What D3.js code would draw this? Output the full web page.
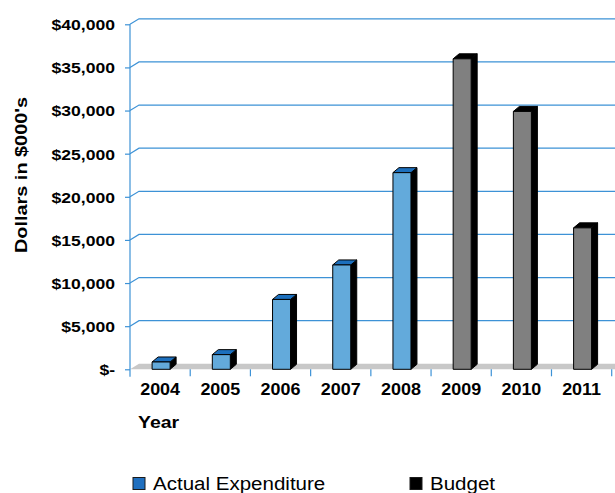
<!DOCTYPE html>
<html>
<head>
<meta charset="utf-8">
<script src="https://cdn.jsdelivr.net/npm/d3@7"></script>
<style>
  body { margin: 0; background: #fff; }
  svg { display: block; font-family: "Liberation Sans", Arial, sans-serif; }
</style>
</head>
<body>
<svg id="chart" width="615" height="493"></svg>
<script>
// Spending by year, in $000's
const years = ["2004", "2005", "2006", "2007", "2008", "2009", "2010", "2011"];
const actualValues = [850, 1700, 8100, 12100, 22800, null, null, null];
const budgetValues = [null, null, null, null, null, 36000, 29900, 16400];
const yTickValues = [0, 5000, 10000, 15000, 20000, 25000, 30000, 35000, 40000];
const yTickLabels = ["$-", "$5,000", "$10,000", "$15,000", "$20,000", "$25,000", "$30,000", "$35,000", "$40,000"];
const seriesNames = ["Actual Expenditure", "Budget"];

const W = 615, H = 493;
const blue = "#3d92d6";
const svg = d3.select("#chart");

const x = d3.scaleBand().domain(years).range([130, 611.7]);
const y = d3.scaleLinear().domain([0, 40000]).range([369.3, 24.3]);

const wall = { dx: 9, dy: -5.5 };   // offset of the back wall
const depth = { dx: 6, dy: -5 };    // depth of each bar
const barW = 18;

// widen text horizontally to a given factor of its natural width
function stretch(sel, factor) {
  sel.each(function () {
    const n = this.getComputedTextLength();
    d3.select(this).attr("textLength", n * factor).attr("lengthAdjust", "spacingAndGlyphs");
  });
}

// floor
svg.append("path")
  .attr("d", `M${x.range()[0]},${y(0)} L${x.range()[0] + wall.dx},${y(0) + wall.dy} L${W},${y(0) + wall.dy} L${W},${y(0)} Z`)
  .attr("fill", "#c8c8c8");

// gridlines on the back wall, joined to the front axis
svg.append("g")
  .selectAll("path")
  .data(yTickValues.filter(v => v > 0))
  .join("path")
  .attr("d", v => `M130,${y(v)} L${130 + wall.dx},${y(v) + wall.dy} H${W}`)
  .attr("fill", "none")
  .attr("stroke", blue)
  .attr("stroke-width", 1.2);

// y axis
const yAxis = svg.append("g")
  .attr("transform", "translate(130,0)")
  .call(d3.axisLeft(y).tickValues(yTickValues).tickFormat((d, i) => yTickLabels[i]).tickSize(5).tickSizeOuter(0));
yAxis.select(".domain").attr("stroke", blue).attr("stroke-width", 1.2)
  .attr("d", `M0,${y(40000)} V${y(0) + 7.5}`);
yAxis.selectAll(".tick line").attr("stroke", blue).attr("stroke-width", 1.2);
const yText = yAxis.selectAll(".tick text")
  .attr("font-size", 15).attr("font-weight", "bold").attr("fill", "#000")
  .attr("font-family", "'Liberation Sans', Arial, sans-serif")
  .attr("dy", "0.36em");
yText.each(function () {
  const n = this.getComputedTextLength() * 1.17;
  d3.select(this).attr("text-anchor", "start").attr("x", -15 - n)
    .attr("textLength", n).attr("lengthAdjust", "spacingAndGlyphs");
});

// x axis: category boundary ticks and year labels
const boundaries = years.map(d => x(d)).concat([x.range()[1]]);
svg.append("g")
  .selectAll("line")
  .data(boundaries.slice(1))
  .join("line")
  .attr("x1", d => d).attr("x2", d => d)
  .attr("y1", y(0)).attr("y2", y(0) + 7)
  .attr("stroke", blue).attr("stroke-width", 1.2);

const xAxis = svg.append("g")
  .attr("transform", `translate(0,${y(0)})`)
  .call(d3.axisBottom(x).tickSize(0).tickPadding(14));
xAxis.select(".domain").remove();
const xText = xAxis.selectAll(".tick text")
  .attr("font-size", 16).attr("font-weight", "bold").attr("fill", "#000")
  .attr("font-family", "'Liberation Sans', Arial, sans-serif");
stretch(xText, 1.12);

// 3-D bars
function drawBars(values, front, top, side) {
  const data = years.map((yr, i) => ({ yr, v: values[i] })).filter(d => d.v != null);
  const g = svg.append("g").attr("stroke", "#000").attr("stroke-width", 1).attr("stroke-linejoin", "round");
  const bar = g.selectAll("g").data(data).join("g");
  const x0 = d => x(d.yr) + x.bandwidth() / 2 - barW / 2 + 1;
  bar.append("path").attr("fill", side)
    .attr("d", d => {
      const a = x0(d) + barW, t = y(d.v), b = y(0);
      return `M${a},${t} L${a + depth.dx},${t + depth.dy} L${a + depth.dx},${b + depth.dy} L${a},${b} Z`;
    });
  bar.append("path").attr("fill", top)
    .attr("d", d => {
      const a = x0(d), t = y(d.v);
      return `M${a},${t} L${a + depth.dx},${t + depth.dy} L${a + barW + depth.dx},${t + depth.dy} L${a + barW},${t} Z`;
    });
  bar.append("rect").attr("fill", front)
    .attr("x", x0).attr("y", d => y(d.v))
    .attr("width", barW).attr("height", d => y(0) - y(d.v));
}
drawBars(actualValues, "#63aadb", "#1c6fbd", "#000");
drawBars(budgetValues, "#808080", "#000", "#000");

// axis titles
const yTitle = svg.append("text")
  .attr("transform", "translate(27,175) rotate(-90)")
  .attr("text-anchor", "middle")
  .attr("font-size", 16).attr("font-weight", "bold")
  .text("Dollars in $000's");
yTitle.attr("textLength", 156).attr("lengthAdjust", "spacingAndGlyphs");

const xTitle = svg.append("text")
  .attr("x", 138).attr("y", 428)
  .attr("font-size", 16.5).attr("font-weight", "bold")
  .text("Year");
stretch(xTitle, 1.18);

// legend
const legendItems = [
  { name: seriesNames[0], color: "#1f6fbf", x: 133 },
  { name: seriesNames[1], color: "#000", x: 410 }
];
const lg = svg.append("g").selectAll("g").data(legendItems).join("g")
  .attr("transform", d => `translate(${d.x},477.5)`);
lg.append("rect").attr("width", 12).attr("height", 12)
  .attr("fill", d => d.color).attr("stroke", "#1a1a1a").attr("stroke-width", 1);
const lgText = lg.append("text").attr("x", 20).attr("y", 12.5)
  .attr("font-size", 18).attr("fill", "#000")
  .text(d => d.name);
stretch(lgText, 1.14);
</script>
</body>
</html>
